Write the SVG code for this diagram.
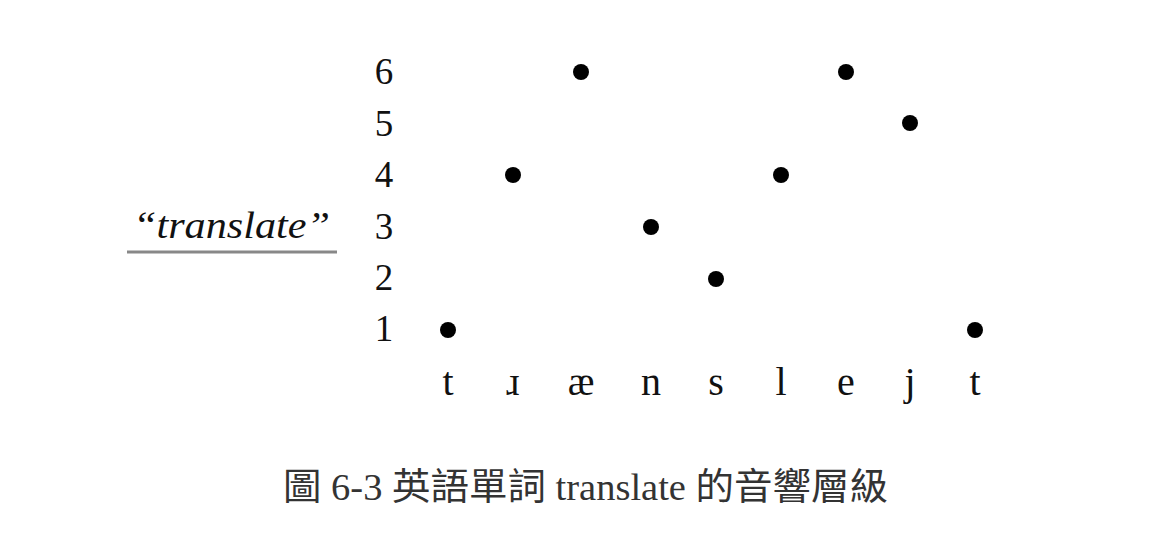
<svg xmlns="http://www.w3.org/2000/svg" width="1158" height="556" viewBox="0 0 1158 556">
<style>
.num{font-family:"Liberation Serif","DejaVu Serif",serif;font-size:37px;fill:#111;text-anchor:middle}
.seg{font-family:"Liberation Serif","DejaVu Serif",serif;font-size:40px;fill:#111;text-anchor:middle}
.lbl{font-family:"Liberation Serif","DejaVu Serif",serif;font-size:38px;font-style:italic;fill:#111}
.cap{font-family:"Liberation Serif","Noto Sans CJK TC",serif;font-size:37px;fill:#333}
.dot{fill:#000}
</style>
<rect width="1158" height="556" fill="#fff"/>
<g id="label">
<text class="lbl" x="133" y="238" textLength="197" lengthAdjust="spacingAndGlyphs">“translate”</text>
<line x1="127" y1="252" x2="337" y2="252" stroke="#888" stroke-width="3"/>
</g>
<g id="scale">
<text class="num" x="384" y="84">6</text>
<text class="num" x="384" y="136">5</text>
<text class="num" x="384" y="187">4</text>
<text class="num" x="384" y="239">3</text>
<text class="num" x="384" y="290">2</text>
<text class="num" x="384" y="341">1</text>
</g>
<g id="segments">
<text class="seg" x="448" y="395">t</text>
<text class="seg" x="513" y="395">ɹ</text>
<text class="seg" x="581" y="395">æ</text>
<text class="seg" x="651" y="395">n</text>
<text class="seg" x="716" y="395">s</text>
<text class="seg" x="781" y="395">l</text>
<text class="seg" x="846" y="395">e</text>
<text class="seg" x="910" y="395">j</text>
<text class="seg" x="975" y="395">t</text>
</g>
<g id="dots">
<circle class="dot" cx="448" cy="330" r="8"/>
<circle class="dot" cx="513" cy="175" r="8"/>
<circle class="dot" cx="581" cy="72" r="8"/>
<circle class="dot" cx="651" cy="227" r="8"/>
<circle class="dot" cx="716" cy="279" r="8"/>
<circle class="dot" cx="781" cy="175" r="8"/>
<circle class="dot" cx="846" cy="72" r="8"/>
<circle class="dot" cx="910" cy="123" r="8"/>
<circle class="dot" cx="975" cy="330" r="8"/>
</g>
<g id="caption">
<text class="cap" x="283" y="500" textLength="605" lengthAdjust="spacingAndGlyphs">圖 6-3 英語單詞 translate 的音響層級</text>
</g>
</svg>
